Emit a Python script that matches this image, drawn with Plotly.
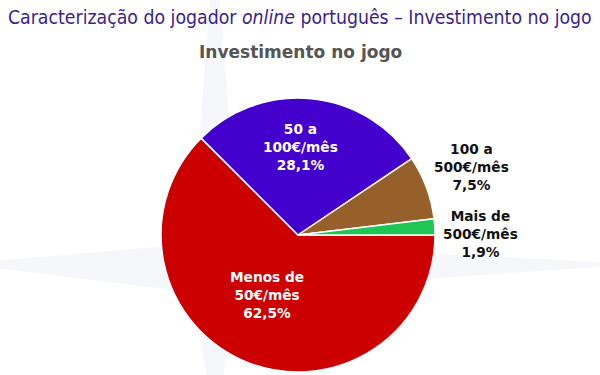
import plotly.graph_objects as go

categories = ["Menos de<br>50€/mês", "50 a<br>100€/mês", "100 a<br>500€/mês", "Mais de<br>500€/mês"]
values = [62.5, 28.1, 7.5, 1.9]
value_labels = ["62,5%", "28,1%", "7,5%", "1,9%"]
colors = ["#CC0000", "#4400CC", "#95602A", "#1FC655"]

W, H = 600, 375
cx, cy, r = 298, 235, 137


def px(x):
    return x / W


def py(y):
    return 1 - y / H


fig = go.Figure()
fig.add_trace(go.Pie(
    labels=categories, values=values, sort=False, direction="clockwise", rotation=90,
    marker=dict(colors=colors, line=dict(color="white", width=1.5)),
    textinfo="none", hoverinfo="label+percent", showlegend=False,
    domain=dict(x=[px(cx - r), px(cx + r)], y=[py(cy + r), py(cy - r)]),
))

# faint compass-star decoration in the background
sx, sy, d = 215, 268, 24
star = [(sx, -60), (sx + d, sy - d), (640, sy - 4), (sx + d, sy + d), (sx, 420),
        (sx - d, sy + d), (-40, sy - 4), (sx - d, sy - d)]
path = "M " + " L ".join(f"{px(x)},{py(y)}" for x, y in star) + " Z"
fig.add_shape(type="path", path=path, xref="paper", yref="paper",
              fillcolor="#F5F7FB", line=dict(width=0), layer="below")

# label positions (pixels) and colours
label_pos = [(267, 295), (300, 147), (471, 167), (480, 234)]
label_col = ["white", "white", "#111111", "#111111"]
for cat, vl, (lx, ly), col in zip(categories, value_labels, label_pos, label_col):
    fig.add_annotation(x=px(lx), y=py(ly), xref="paper", yref="paper",
                       text=f"<b>{cat}<br>{vl}</b>", showarrow=False,
                       font=dict(family="DejaVu Sans", size=13.7, color=col),
                       align="center", xanchor="center", yanchor="middle")

fig.add_annotation(x=0.5, y=py(17), xref="paper", yref="paper", showarrow=False,
                   text="Caracterização do jogador <i>online</i> português – Investimento no jogo",
                   font=dict(family="DejaVu Sans Condensed", size=19.3, color="#3A1E8C"),
                   xanchor="center", yanchor="middle")
fig.add_annotation(x=0.5, y=py(52), xref="paper", yref="paper", showarrow=False,
                   text="<b>Investimento no jogo</b>",
                   font=dict(family="DejaVu Sans", size=17, color="#555555"),
                   xanchor="center", yanchor="middle")

fig.update_layout(width=W, height=H, margin=dict(l=0, r=0, t=0, b=0),
                  paper_bgcolor="white", plot_bgcolor="white")
fig.write_html("out.html", config={"displayModeBar": False},
               post_script="document.body.style.margin='0';")
